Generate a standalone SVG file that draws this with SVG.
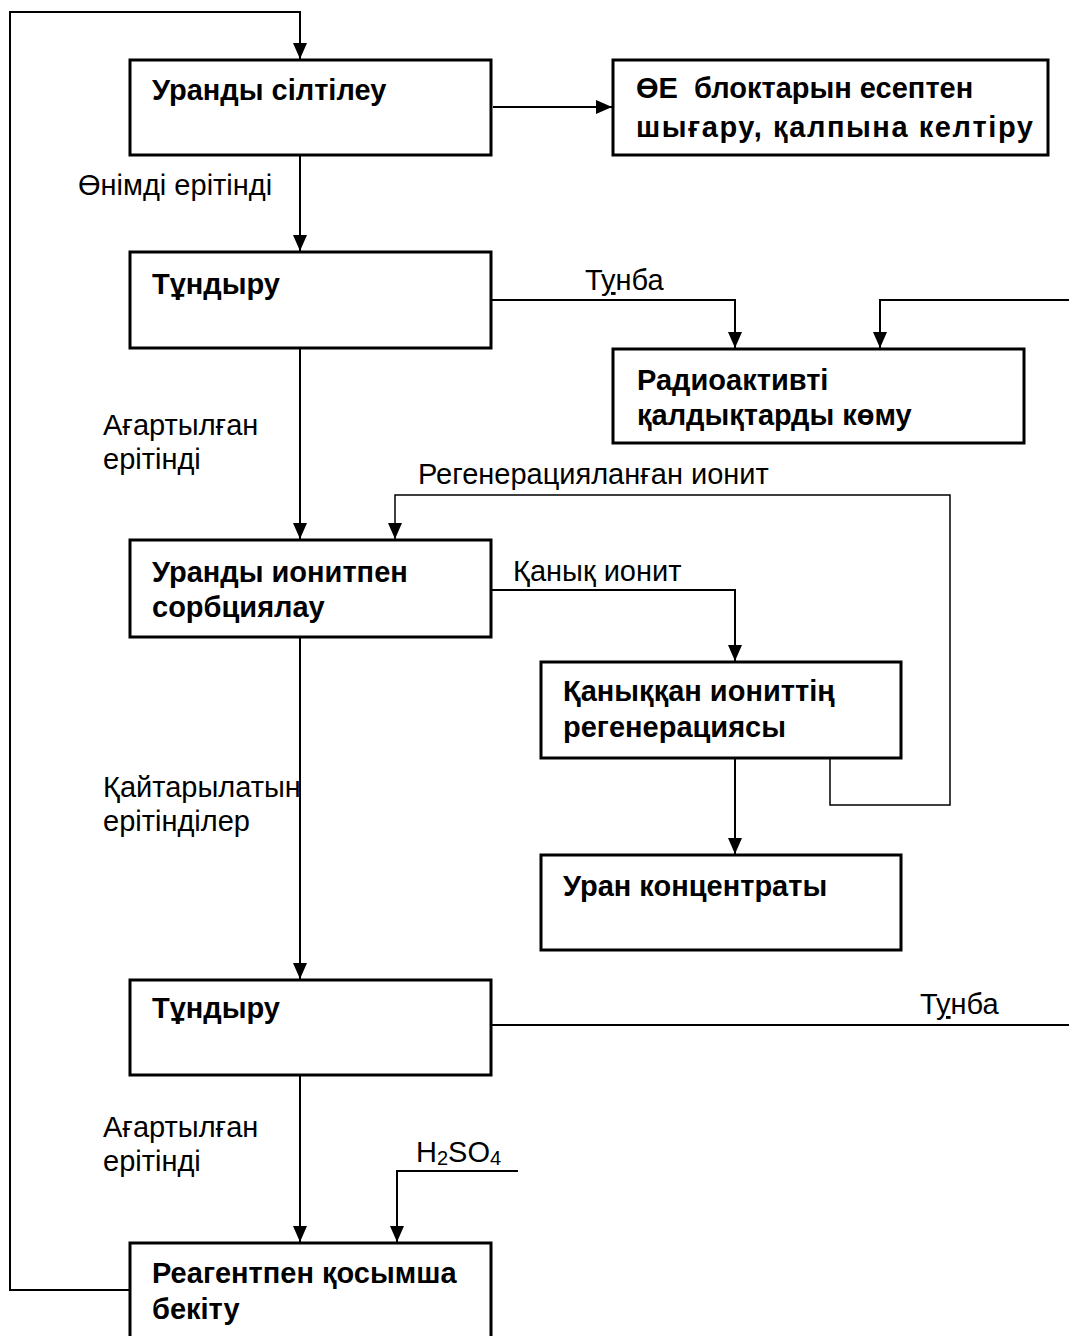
<svg xmlns="http://www.w3.org/2000/svg" width="1069" height="1336" viewBox="0 0 1069 1336">
<style>
.box{fill:#fff;stroke:#000;stroke-width:3}
.b{font-family:"Liberation Sans",Arial,sans-serif;font-weight:bold;font-size:29px;fill:#000;white-space:pre}
.t{font-family:"Liberation Sans",Arial,sans-serif;font-size:29px;fill:#000}
.c{fill:none;stroke:#000;stroke-width:2}
.thin{fill:none;stroke:#000;stroke-width:1.5}
</style>
<defs>
<marker id="ar" markerUnits="userSpaceOnUse" markerWidth="14" markerHeight="16" refX="7" refY="16" orient="0" viewBox="0 0 14 16"><path d="M0,0 L14,0 L7,16 z" fill="#000"/></marker>
<marker id="ar-r" markerUnits="userSpaceOnUse" markerWidth="16" markerHeight="14" refX="16" refY="7" viewBox="0 0 16 14"><path d="M0,0 L16,7 L0,14 z" fill="#000"/></marker>
</defs>
<rect width="1069" height="1336" fill="#fff"/>
<g id="connectors">
<path class="c" d="M130,1290 H10 V12 H300 V59" marker-end="url(#ar)"/>
<path class="c" d="M493,107 H612" marker-end="url(#ar-r)"/>
<path class="c" d="M300,155 V251" marker-end="url(#ar)"/>
<path class="c" d="M491,300 H735 V348" marker-end="url(#ar)"/>
<path class="c" d="M1069,300 H880 V348" marker-end="url(#ar)"/>
<path class="c" d="M300,348 V539" marker-end="url(#ar)"/>
<path class="thin" d="M830,758 V805 H950 V495 H395 V539" marker-end="url(#ar)"/>
<path class="c" d="M491,590 H735 V661" marker-end="url(#ar)"/>
<path class="c" d="M735,758 V854" marker-end="url(#ar)"/>
<path class="c" d="M300,637 V979" marker-end="url(#ar)"/>
<path class="c" d="M491,1025 H1069"/>
<path class="c" d="M300,1075 V1242" marker-end="url(#ar)"/>
<path class="c" d="M518,1171 H397 V1242" marker-end="url(#ar)"/>
<text class="t" x="78" y="195">Өнімді ерітінді</text>
<text class="t" x="585" y="290">Т<tspan text-decoration="underline">у</tspan>нба</text>
<text class="t" x="103" y="435">Ағартылған</text>
<text class="t" x="103" y="469">ерітінді</text>
<text class="t" x="418" y="484">Регенерацияланған ионит</text>
<text class="t" x="513" y="581">Қанық ионит</text>
<text class="t" x="103" y="797">Қайтарылатын</text>
<text class="t" x="103" y="831">ерітінділер</text>
<text class="t" x="920" y="1014">Т<tspan text-decoration="underline">у</tspan>нба</text>
<text class="t" x="103" y="1137">Ағартылған</text>
<text class="t" x="103" y="1171">ерітінді</text>
<text class="t" x="416" y="1162">H<tspan font-size="20" dy="3">2</tspan><tspan dy="-3">SO</tspan><tspan font-size="20" dy="3">4</tspan></text>
</g>
<g id="n1"><rect class="box" x="130" y="60" width="361" height="95"/><text class="b" x="152" y="100">Уранды сілтілеу</text></g>
<g id="n2"><rect class="box" x="613" y="60" width="435" height="95"/><text class="b" x="636" y="98">ӨЕ  блоктарын есептен</text><text class="b" x="636" y="137" textLength="397" lengthAdjust="spacing">шығару, қалпына келтіру</text></g>
<g id="n3"><rect class="box" x="130" y="252" width="361" height="96"/><text class="b" x="152" y="294">Тұндыру</text></g>
<g id="n4"><rect class="box" x="613" y="349" width="411" height="94"/><text class="b" x="637" y="390">Радиоактивті</text><text class="b" x="637" y="425">қалдықтарды көму</text></g>
<g id="n5"><rect class="box" x="130" y="540" width="361" height="97"/><text class="b" x="152" y="582">Уранды ионитпен</text><text class="b" x="152" y="617">сорбциялау</text></g>
<g id="n6"><rect class="box" x="541" y="662" width="360" height="96"/><text class="b" x="563" y="701">Қаныққан иониттің</text><text class="b" x="563" y="737">регенерациясы</text></g>
<g id="n7"><rect class="box" x="541" y="855" width="360" height="95"/><text class="b" x="563" y="896">Уран концентраты</text></g>
<g id="n8"><rect class="box" x="130" y="980" width="361" height="95"/><text class="b" x="152" y="1018">Тұндыру</text></g>
<g id="n9"><rect class="box" x="130" y="1243" width="361" height="100"/><text class="b" x="152" y="1283">Реагентпен қосымша</text><text class="b" x="152" y="1319">бекіту</text></g>
</svg>
